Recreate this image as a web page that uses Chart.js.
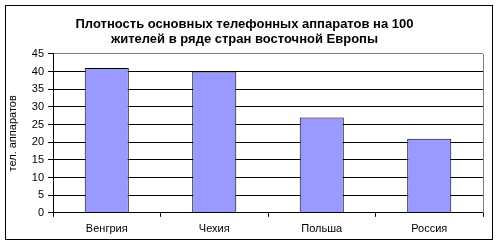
<!DOCTYPE html>
<html lang="ru">
<head>
    <meta charset="UTF-8">
    <title>Плотность телефонных аппаратов</title>
    <script src="https://cdn.jsdelivr.net/npm/chart.js"></script>
    <style>
        body {
            margin: 0;
            padding: 0;
            background: #ffffff;
            font-family: Arial, "Liberation Sans", sans-serif;
        }
        .chart-box {
            position: relative;
            width: 499px;
            height: 246px;
        }
        .frame {
            position: absolute;
            left: 5px;
            top: 5px;
            width: 486px;
            height: 233px;
            border: 1px solid #000;
            pointer-events: none;
        }
    </style>
</head>
<body>
    <div class="chart-box">
        <canvas id="phonesChart" width="499" height="246"></canvas>
        <div class="frame"></div>
    </div>

    <script>
        const countries = ["Венгрия", "Чехия", "Польша", "Россия"];
        const phones = [41, 40, 27, 21];
        const yTicks = [0, 5, 10, 15, 20, 25, 30, 35, 40, 45];

        // серая правая граница области построения
        const plotBorder = {
            id: "plotBorder",
            afterDatasetsDraw(chart) {
                const a = chart.chartArea;
                const c = chart.ctx;
                const x = Math.round(a.right - 0.5) + 0.5;
                c.save();
                c.strokeStyle = "#808080";
                c.lineWidth = 1;
                c.beginPath();
                c.moveTo(x, a.top);
                c.lineTo(x, a.bottom);
                c.stroke();
                c.restore();
            }
        };

        const ctx = document.getElementById("phonesChart").getContext("2d");

        new Chart(ctx, {
            type: "bar",
            data: {
                labels: countries,
                datasets: [{
                    data: phones,
                    backgroundColor: "#9999ff",
                    borderColor: "#000000",
                    borderWidth: 1,
                    categoryPercentage: 1,
                    barPercentage: 0.41
                }]
            },
            options: {
                responsive: false,
                animation: false,
                devicePixelRatio: 1,
                layout: {
                    padding: { left: 6, right: 16, top: 0, bottom: 4 }
                },
                plugins: {
                    legend: { display: false },
                    tooltip: { enabled: false },
                    title: {
                        display: true,
                        text: ["Плотность основных телефонных аппаратов на 100", "жителей в ряде стран восточной Европы"],
                        color: "#000",
                        font: { family: "Arial", size: 13, weight: "bold", lineHeight: 1.15 },
                        padding: { top: 17, bottom: 7 }
                    }
                },
                scales: {
                    x: {
                        offset: true,
                        grid: {
                            offset: true,
                            drawOnChartArea: false,
                            drawTicks: true,
                            tickLength: 4,
                            color: "#000"
                        },
                        border: { color: "#000" },
                        ticks: {
                            color: "#000",
                            font: { family: "Arial", size: 11 },
                            padding: 6
                        }
                    },
                    y: {
                        min: yTicks[0],
                        max: yTicks[yTicks.length - 1],
                        afterFit: (scale) => {
                            scale.width = 47;
                        },
                        grid: {
                            color: (c) => c.tick && c.tick.value === yTicks[yTicks.length - 1] ? "#808080" : "#000",
                            tickColor: "#000",
                            lineWidth: 1,
                            tickLength: 5
                        },
                        border: { color: "#000" },
                        ticks: {
                            stepSize: yTicks[1] - yTicks[0],
                            color: "#000",
                            font: { family: "Arial", size: 11 },
                            padding: 4
                        },
                        title: {
                            display: true,
                            text: "тел. аппаратов",
                            color: "#000",
                            font: { family: "Arial", size: 11 },
                            padding: { top: 0, bottom: 2 }
                        }
                    }
                }
            },
            plugins: [plotBorder]
        });
    </script>
</body>
</html>
